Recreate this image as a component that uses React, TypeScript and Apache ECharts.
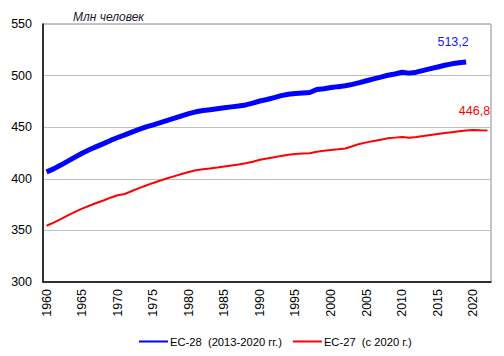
import React, { useEffect, useRef } from "react";
import * as echarts from "echarts";

const years: string[] = [];
for (let y = 1960; y <= 2022; y++) years.push(String(y));

// ЕС-28 (1960–2019), млн человек
const eu28 = [
  406.7, 409.6, 413.3, 417.1, 421.0, 424.8, 428.1, 431.2, 434.1, 437.2,
  440.0, 442.6, 445.3, 447.9, 450.3, 452.3, 454.4, 456.6, 458.7, 461.0,
  463.2, 464.9, 466.1, 467.0, 467.9, 468.8, 469.7, 470.6, 471.6, 473.3,
  475.4, 476.8, 478.6, 480.6, 482.0, 482.7, 483.2, 483.6, 486.6, 487.3,
  488.4, 489.3, 490.1, 491.5, 493.2, 495.0, 496.8, 498.5, 500.3, 501.6,
  503.2, 502.4, 503.3, 505.0, 506.8, 508.3, 510.0, 511.4, 512.4, 513.2,
];

// ЕС-27 (1960–2022), млн человек
const eu27 = [
  354.5, 357.6, 361.0, 364.6, 368.0, 371.1, 373.9, 376.5, 379.0, 381.7,
  384.1, 385.3, 388.2, 391.0, 393.5, 396.0, 398.3, 400.5, 402.6, 404.6,
  406.6, 408.2, 409.2, 410.0, 410.9, 411.9, 412.9, 413.9, 415.0, 416.6,
  418.4, 419.6, 420.8, 422.2, 423.3, 424.0, 424.4, 424.8, 426.3, 427.1,
  428.0, 428.6, 429.4, 431.5, 433.8, 435.3, 436.6, 437.9, 439.2, 439.9,
  440.5, 439.8, 440.5, 441.4, 442.4, 443.4, 444.3, 445.2, 446.0, 446.7,
  447.3, 447.0, 446.8,
];

const seriesNames = ["ЕС-28\u00a0 (2013-2020 гг.)", "ЕС-27\u00a0 (с\u00a02020 г.)"];
const yTicks = { min: 300, max: 550, interval: 50 };
const unitLabel = "Млн человек";

const FONT = "'Liberation Sans', Arial, sans-serif";

function lastPointMark(values: number[], color: string) {
  const i = values.length - 1;
  return {
    symbol: "circle",
    symbolSize: 1,
    silent: true,
    itemStyle: { color: "rgba(0,0,0,0)" },
    label: {
      show: true,
      position: "top",
      distance: 0,
      offset: [-13, -13],
      color,
      fontSize: 12.5,
      fontFamily: FONT,
      formatter: () => String(values[i]).replace(".", ","),
    },
    data: [{ coord: [years[i], values[i]], value: values[i] }],
  };
}

export default function App() {
  const ref = useRef<HTMLDivElement>(null);
  useEffect(() => {
    if (!ref.current) return;
    const chart = echarts.init(ref.current, undefined, { renderer: "svg" });
    chart.setOption({
      animation: false,
      backgroundColor: "#ffffff",
      textStyle: { fontFamily: FONT },
      grid: {
        left: 43,
        right: 13,
        top: 24,
        bottom: 74,
        show: true,
        borderColor: "#8a8a8a",
        borderWidth: 1,
      },
      title: {
        text: unitLabel,
        left: 68,
        top: 6,
        textStyle: {
          fontSize: 12,
          fontStyle: "italic",
          fontWeight: "normal",
          color: "#1a1a2e",
          fontFamily: FONT,
        },
      },
      legend: {
        left: 133,
        top: 331,
        itemWidth: 29,
        itemHeight: 10,
        itemGap: 10,
        textStyle: { fontSize: 11.2, color: "#000", fontFamily: FONT, padding: [0, 0, 0, -3] },
        data: [
          { name: seriesNames[0], itemStyle: { color: "rgba(0,0,0,0)", borderWidth: 0 } },
          { name: seriesNames[1], itemStyle: { color: "rgba(0,0,0,0)", borderWidth: 0 } },
        ],
      },
      xAxis: {
        type: "category",
        data: years,
        boundaryGap: true,
        axisLine: { show: true, lineStyle: { color: "#000", width: 1.5 } },
        axisTick: { show: false },
        axisLabel: {
          interval: 4,
          rotate: 90,
          fontSize: 12.5,
          color: "#000",
          margin: 7,
          fontFamily: FONT,
        },
        splitLine: { show: false },
      },
      yAxis: {
        type: "value",
        min: yTicks.min,
        max: yTicks.max,
        interval: yTicks.interval,
        axisLine: { show: true, lineStyle: { color: "#000", width: 1.5 } },
        axisTick: { show: false },
        axisLabel: { fontSize: 12.5, color: "#000", margin: 11, fontFamily: FONT },
        splitLine: { show: true, lineStyle: { color: "#c0c0c0", width: 1 } },
      },
      series: [
        {
          name: seriesNames[0],
          type: "line",
          data: eu28,
          showSymbol: false,
          symbol: "none",
          lineStyle: { color: "#0000ff", width: 5 },
          itemStyle: { color: "#0000ff" },
          markPoint: lastPointMark(eu28, "#1515ff"),
          z: 3,
        },
        {
          name: seriesNames[1],
          type: "line",
          data: eu27,
          showSymbol: false,
          symbol: "none",
          lineStyle: { color: "#ff0000", width: 2 },
          itemStyle: { color: "#ff0000" },
          markPoint: lastPointMark(eu27, "#ff0000"),
          z: 2,
        },
      ],
    });
    return () => chart.dispose();
  }, []);
  return (
    <div
      ref={ref}
      style={{ position: "fixed", left: 0, top: 0, width: 504, height: 356 }}
    />
  );
}
